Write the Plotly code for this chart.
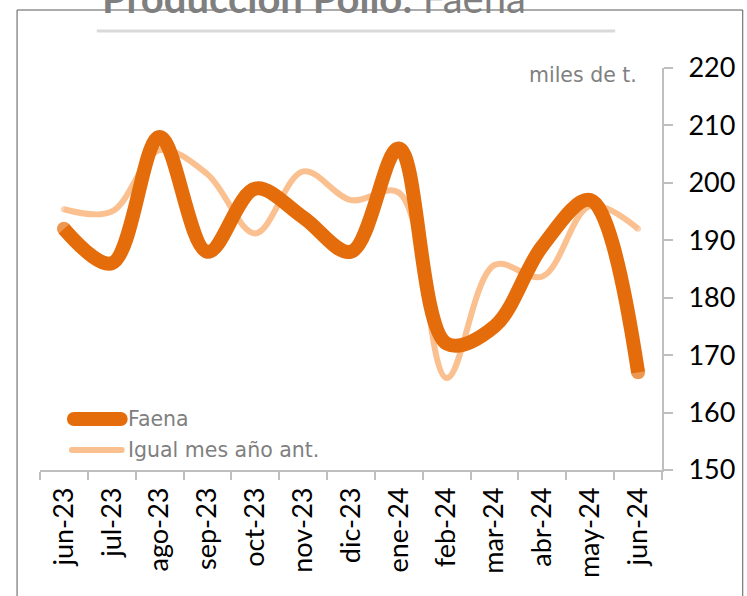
import plotly.graph_objects as go

# Monthly poultry slaughter, thousands of tonnes
months = ["jun-23", "jul-23", "ago-23", "sep-23", "oct-23", "nov-23", "dic-23",
          "ene-24", "feb-24", "mar-24", "abr-24", "may-24", "jun-24"]
faena = [192, 186, 208, 188, 199, 194, 188, 206, 172, 175, 189, 197, 167]
igual_mes_anio_ant = [195.4, 195, 205.7, 201.5, 191.2, 202, 197, 198.3, 166, 185.7, 183.7, 196, 192]
y_ticks = [150, 160, 170, 180, 190, 200, 210, 220]

DARK = "#E46C0A"
LIGHT = "#FAC090"
GREY_TXT = "#7F7F7F"
AXIS = "#BFBFBF"
FONT = "Lato"
SIDE_FONT = "DejaVu Sans"

W, H = 747, 596
ML, MR, MT, MB = 40, 83, 68, 126
PW, PH = W - ML - MR, H - MT - MB


def px(x):
    return (x - ML) / PW


def py(y):
    return (H - MB - y) / PH


def end_sizes(n, s):
    # marker only at both ends to round off the line caps
    return [s] + [0] * (n - 2) + [s]


fig = go.Figure()
fig.add_trace(go.Scatter(
    x=months, y=igual_mes_anio_ant, name="Igual mes año ant.",
    mode="lines+markers", line=dict(color=LIGHT, width=6, shape="spline", smoothing=1),
    marker=dict(color=LIGHT, size=end_sizes(len(months), 6), line=dict(width=0)),
    showlegend=False, hoverinfo="x+y",
))
fig.add_trace(go.Scatter(
    x=months, y=faena, name="Faena",
    mode="lines+markers", line=dict(color=DARK, width=14, shape="spline", smoothing=1),
    marker=dict(color=DARK, size=end_sizes(len(months), 14), line=dict(width=0)),
    showlegend=False, hoverinfo="x+y",
))

shapes = [
    # outer frame
    dict(type="rect", xref="paper", yref="paper", x0=px(17), x1=px(745), y0=py(620), y1=py(10),
         line=dict(color="#595959", width=1), fillcolor="rgba(0,0,0,0)", layer="below"),
    # rule under the title
    dict(type="line", xref="paper", yref="paper", x0=px(97), x1=px(617), y0=py(31), y1=py(31),
         line=dict(color="#D9D9D9", width=3)),
]


def legend_line(x0, x1, y, color, w):
    r = w / 2
    out = [dict(type="line", xref="paper", yref="paper", x0=px(x0), x1=px(x1), y0=py(y), y1=py(y),
                line=dict(color=color, width=w))]
    for xc in (x0, x1):
        out.append(dict(type="circle", xref="paper", yref="paper",
                        x0=px(xc - r), x1=px(xc + r), y0=py(y + r), y1=py(y - r),
                        fillcolor=color, line=dict(width=0)))
    return out


shapes += legend_line(74, 121, 419, DARK, 14)
shapes += legend_line(72, 122, 450, LIGHT, 6)

annotations = [
    dict(text="<b>Producción Pollo:</b> Faena", xref="paper", yref="paper",
         x=px(315), y=py(24), xanchor="center", yanchor="bottom", showarrow=False,
         font=dict(family=FONT, size=40, color=GREY_TXT)),
    dict(text="miles de t.", xref="paper", yref="paper", x=px(641), y=py(75),
         xanchor="right", yanchor="middle", showarrow=False,
         font=dict(family=SIDE_FONT, size=20.5, color=GREY_TXT)),
    dict(text="Faena", xref="paper", yref="paper", x=px(126), y=py(419),
         xanchor="left", yanchor="middle", showarrow=False,
         font=dict(family=SIDE_FONT, size=20.5, color=GREY_TXT)),
    dict(text="Igual mes año ant.", xref="paper", yref="paper", x=px(126), y=py(450),
         xanchor="left", yanchor="middle", showarrow=False,
         font=dict(family=SIDE_FONT, size=20.5, color=GREY_TXT)),
]

fig.update_layout(
    width=W, height=H,
    margin=dict(l=ML, r=MR, t=MT, b=MB, pad=0),
    paper_bgcolor="white", plot_bgcolor="white",
    showlegend=False,
    shapes=shapes, annotations=annotations,
    xaxis=dict(
        type="category", range=[-0.5, len(months) - 0.5],
        showline=True, linecolor=AXIS, linewidth=1.5,
        ticks="outside", tickson="boundaries", ticklen=8, tickcolor=AXIS, tickwidth=1.5,
        tickangle=-90, tickfont=dict(family=FONT, size=27, color="black"), ticklabelstandoff=5,
        showgrid=False, zeroline=False, fixedrange=True,
    ),
    yaxis=dict(
        side="right", range=[150, 220], tickvals=y_ticks,
        showline=True, linecolor=AXIS, linewidth=2,
        ticks="outside", ticklen=9, tickcolor=AXIS, tickwidth=1.5,
        tickfont=dict(family=FONT, size=27, color="black"), ticklabelstandoff=10,
        showgrid=False, zeroline=False, fixedrange=True,
    ),
)

fig.write_html("out.html")
